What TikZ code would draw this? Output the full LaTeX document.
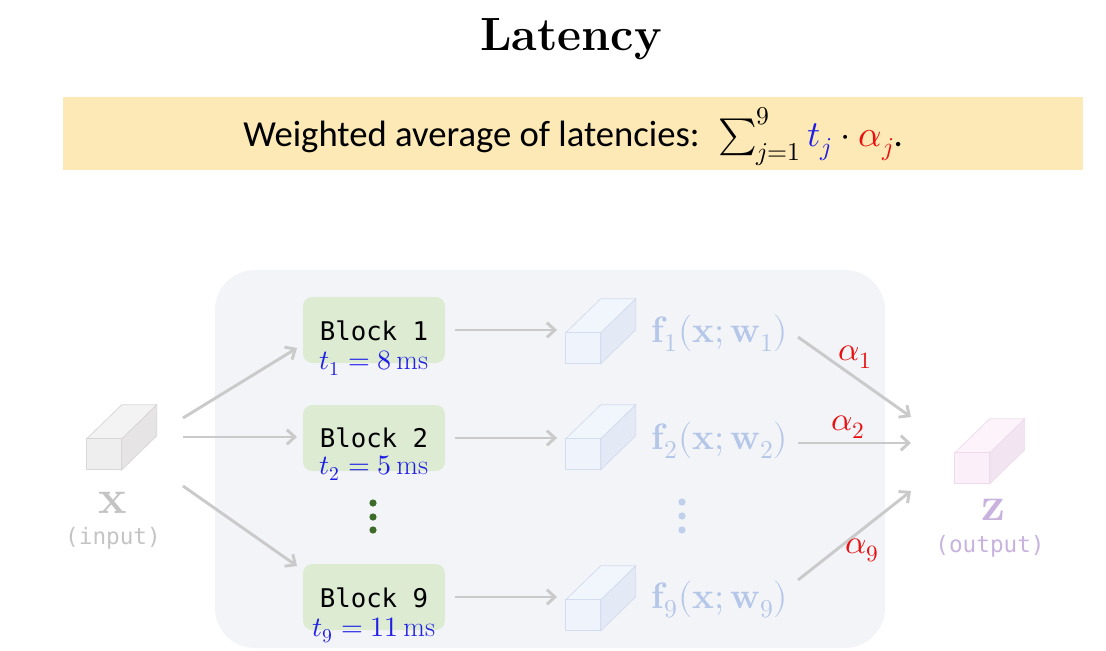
\documentclass[tikz,border=0pt]{standalone}
\usepackage{amsmath}
\usepackage{fontspec}
\usepackage{unicode-math}
\setmathfont{Latin Modern Math}
\newfontfamily\carlito{Carlito}
\newfontfamily\dmono{DejaVu Sans Mono}
\usetikzlibrary{arrows.meta,calc}
\definecolor{hdr}{HTML}{FDE9B5}
\definecolor{panel}{HTML}{F3F4F8}
\definecolor{blockg}{HTML}{DCEBD2}
\definecolor{tblue}{HTML}{1E1EE6}
\definecolor{ared}{HTML}{E81010}
\definecolor{agray}{HTML}{CACACA}
\definecolor{flabel}{HTML}{B5C7E8}
\definecolor{dotblue}{HTML}{BFCFEC}
\definecolor{dotgreen}{HTML}{3D6B2A}
\definecolor{xgray}{HTML}{C4C4C4}
\definecolor{zpurp}{HTML}{C8B2DE}
% cube colours: front, top, side, edge
\definecolor{inF}{HTML}{EFEEEE}\definecolor{inT}{HTML}{F4F3F3}\definecolor{inS}{HTML}{E6E4E4}\definecolor{inE}{HTML}{D8D6D6}
\definecolor{fcF}{HTML}{EEF3FC}\definecolor{fcT}{HTML}{F1F5FC}\definecolor{fcS}{HTML}{E3E9F5}\definecolor{fcE}{HTML}{D4DDEF}
\definecolor{zcF}{HTML}{FBEFFA}\definecolor{zcT}{HTML}{FCF3FB}\definecolor{zcS}{HTML}{F3E4F1}\definecolor{zcE}{HTML}{EEDCEC}
\newcommand\mycube[3]{%
  \node[cubebb] (#1) at (#2) {};
  \begin{scope}[shift={(#1.south west)}]
    \filldraw[fill=#3S, draw=#3E, line width=0.6pt] (35,0) -- (70,-34) -- (70,-65) -- (35,-31) -- cycle;
    \filldraw[fill=#3T, draw=#3E, line width=0.6pt] (0,-31) -- (35,-31) -- (70,-65) -- (35,-65) -- cycle;
    \filldraw[fill=#3F, draw=#3E, line width=0.6pt] (0,0) rectangle (35,-31);
  \end{scope}}
\begin{document}
\begin{tikzpicture}[x=0.75pt,y=-0.75pt,
  conn/.style={draw=agray, line width=2.2pt, -{Straight Barb[length=6pt,width=11pt]}},
  blockbox/.style={rounded corners=7pt, fill=blockg, minimum width=106.5pt, minimum height=49.5pt, inner sep=0pt},
  cubebb/.style={minimum width=52.5pt, minimum height=48.75pt, inner sep=0pt},
  blocklbl/.style={font=\dmono\fontsize{19.3}{21}\selectfont, anchor=base, inner sep=0pt},
  tlbl/.style={text=tblue, font=\fontsize{21}{24}\selectfont, anchor=base, inner sep=0pt},
  flbl/.style={text=flabel, font=\fontsize{27.5}{30}\selectfont, inner sep=2pt},
  albl/.style={text=ared, font=\fontsize{25}{27}\selectfont, inner sep=0pt},
  dotg/.style={fill=dotgreen},
  dotb/.style={fill=dotblue}]
\useasboundingbox (0,0) rectangle (1106,650);

% title
\node[anchor=base, font=\fontsize{35}{40}\selectfont\bfseries] (title) at (571,50) {Latency};

% header band
\fill[hdr] (63,97) rectangle (1083,170);
\node[anchor=base west, inner sep=0pt, font=\carlito\fontsize{27.5}{32}\selectfont] (hdrtext) at (243,146)
  {Weighted average of latencies:\enspace $\sum_{j=1}^{9}\textcolor{tblue}{t_j}\cdot\textcolor{ared}{\alpha_j}$.};

% panel
\fill[panel, rounded corners=30pt] (215,270) rectangle (885,648);

% input
\mycube{xin}{122,437}{in}
\node[anchor=base, text=xgray, font=\fontsize{36}{38}\selectfont, inner sep=0pt] (xlab) at (113,513) {$\mathbf{x}$};
\node[text=xgray, font=\dmono\fontsize{17}{19}\selectfont, inner sep=0pt] (xcap) at (113,538) {(input)};

% blocks
\node[blockbox] (b1) at (374,330) {};
\node[blockbox] (b2) at (374,438) {};
\node[blockbox] (b9) at (374,597) {};
\node[blocklbl] (b1l) at (374,340) {Block 1};
\node[blocklbl] (b2l) at (374,447) {Block 2};
\node[blocklbl] (b9l) at (374,607) {Block 9};
\node[tlbl] (b1t) at (374,369) {$t_1 = 8\,\mathrm{ms}$};
\node[tlbl] (b2t) at (374,474) {$t_2 = 5\,\mathrm{ms}$};
\node[tlbl] (b9t) at (374,636) {$t_9 = 11\,\mathrm{ms}$};
\fill[dotg] (373,503) circle[radius=2.7pt];
\fill[dotg] (373,517) circle[radius=2.7pt];
\fill[dotg] (373,530) circle[radius=2.7pt];

% arrows from input
\coordinate (s1) at (183,418);
\coordinate (s2) at (183,437);
\coordinate (s9) at (183,486);
\coordinate (e1) at (297,348);
\coordinate (e2) at (297,437);
\coordinate (e9) at (297,566);
\draw[conn] (s1) -- (e1);
\draw[conn] (s2) -- (e2);
\draw[conn] (s9) -- (e9);

% feature cubes
\mycube{c1}{601,331}{fc}
\mycube{c2}{601,437}{fc}
\mycube{c9}{601,598}{fc}
\draw[conn, shorten <=7.5pt, shorten >=6.5pt] (b1.east) -- (b1.east -| c1.west);
\draw[conn, shorten <=7.5pt, shorten >=6.5pt] (b2.east) -- (b2.east -| c2.west);
\draw[conn, shorten <=7.5pt, shorten >=6.5pt] (b9.east) -- (b9.east -| c9.west);

% f labels
\node[flbl] (f1) at (720,333) {$\mathbf{f}_1(\mathbf{x};\mathbf{w}_1)$};
\node[flbl] (f2) at (720,440) {$\mathbf{f}_2(\mathbf{x};\mathbf{w}_2)$};
\node[flbl] (f9) at (720,600) {$\mathbf{f}_9(\mathbf{x};\mathbf{w}_9)$};
\fill[dotb] (682,502) circle[radius=2.7pt];
\fill[dotb] (682,516) circle[radius=2.7pt];
\fill[dotb] (682,530) circle[radius=2.7pt];

% output
\mycube{zout}{990,451}{zc}
\node[anchor=base, text=zpurp, font=\fontsize{36}{38}\selectfont, inner sep=0pt] (zlab) at (993,520) {$\mathbf{z}$};
\node[text=zpurp, font=\dmono\fontsize{17}{19}\selectfont, inner sep=0pt] (zcap) at (990,546) {(output)};

\coordinate (o1s) at (798,337);
\coordinate (o2s) at (798,443);
\coordinate (o9s) at (798,580);
\coordinate (o1) at (911,417);
\coordinate (o2) at (911,443);
\coordinate (o9) at (911,491);
\draw[conn] (o1s) -- (o1);
\draw[conn] (o2s) -- (o2);
\draw[conn] (o9s) -- (o9);
\node[albl] (a1) at (855,357) {$\alpha_1$};
\node[albl] (a2) at (848,427) {$\alpha_2$};
\node[albl] (a9) at (862,550) {$\alpha_9$};
\end{tikzpicture}
\end{document}
